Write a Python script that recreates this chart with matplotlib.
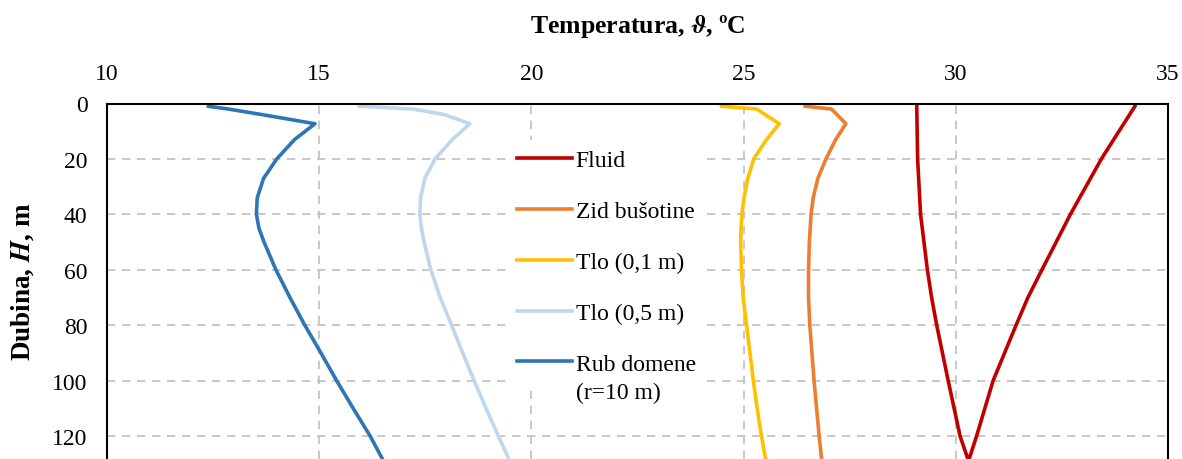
import matplotlib
matplotlib.use("Agg")
import matplotlib.pyplot as plt

plt.rcParams["font.family"] = ["Liberation Serif", "DejaVu Serif"]

# Depth grid (m) shared by the ground/wall profiles
depth = [1, 2, 4, 7.3, 13, 20, 27, 34, 40, 45, 50, 60, 70, 80, 90, 100, 110, 120, 130]

# Temperature profiles (degC) along the depth grid
t_wall = [26.45, 27.07, 27.20, 27.41, 27.17, 26.94, 26.75, 26.64, 26.59, 26.57,
          26.55, 26.53, 26.53, 26.56, 26.61, 26.66, 26.72, 26.78, 26.85]
t_soil_01 = [24.48, 25.31, 25.51, 25.84, 25.54, 25.24, 25.10, 25.01, 24.96, 24.94,
             24.93, 24.95, 24.99, 25.07, 25.15, 25.23, 25.32, 25.42, 25.54]
t_soil_05 = [15.95, 17.21, 17.95, 18.55, 18.14, 17.73, 17.49, 17.39, 17.37, 17.41,
             17.47, 17.63, 17.85, 18.12, 18.38, 18.65, 18.93, 19.22, 19.52]
t_edge = [12.39, 12.86, 13.65, 14.90, 14.42, 14.00, 13.69, 13.54, 13.52, 13.58,
          13.70, 13.98, 14.31, 14.66, 15.04, 15.41, 15.80, 16.20, 16.55]

# Fluid goes down the U-tube and back up
fluid_depth = [1, 20, 40, 60, 70, 80, 100, 120, 129, 120, 100, 80, 70, 60, 40, 20, 1]
t_fluid = [29.08, 29.10, 29.17, 29.33, 29.43, 29.55, 29.82, 30.10, 30.30,
           30.49, 30.88, 31.42, 31.70, 32.03, 32.70, 33.43, 34.22]

W, H = 1182, 460
fig = plt.figure(figsize=(W / 100, H / 100), dpi=100)
ax = fig.add_axes([107 / W, 0, (1168 - 107) / W, (H - 104.5) / H])

lw = 2.6
ax.plot(t_fluid, fluid_depth, color="#C00000", lw=lw, label="Fluid", solid_joinstyle="round")
ax.plot(t_wall, depth, color="#ED7D31", lw=lw, label="Zid bušotine", solid_joinstyle="round")
ax.plot(t_soil_01, depth, color="#FFC000", lw=lw, label="Tlo (0,1 m)", solid_joinstyle="round")
ax.plot(t_soil_05, depth, color="#BDD7EE", lw=lw, label="Tlo (0,5 m)", solid_joinstyle="round")
ax.plot(t_edge, depth, color="#2E75B6", lw=lw, label="Rub domene", solid_joinstyle="round")

ax.set_xlim(10, 35)
ax.set_ylim(128.3, 0)
ax.set_xticks(range(10, 36, 5))
ax.set_yticks(range(0, 121, 20))
ax.xaxis.tick_top()
ax.xaxis.set_label_position("top")
ax.tick_params(length=0, pad=14, labelsize=17)

ax.grid(color="#BFBFBF", linestyle=(0, (5, 4)), linewidth=1.2)
ax.set_axisbelow(True)
for s in ("top", "left", "right"):
    ax.spines[s].set_linewidth(1.5)
ax.spines["bottom"].set_visible(False)

ax.set_xlabel(r"Temperatura, $\mathbfit{\vartheta}$, ºC", fontsize=18.5,
              fontweight="bold", math_fontfamily="stix", labelpad=22)
ax.set_ylabel(r"Dubina, $\mathbfit{H}$, m", fontsize=19.5,
              fontweight="bold", math_fontfamily="stix", labelpad=12)

leg = ax.legend(loc="upper left", bbox_to_anchor=((508 - 107) / 1061, 1 - (141.5 - 104.5) / 355.5),
                borderaxespad=0, fontsize=17, handlelength=2.3, handletextpad=0.17,
                labelspacing=1.24, borderpad=0.4, fancybox=False, framealpha=1,
                facecolor="white", edgecolor="none")
# second line of the last legend label, drawn after the legend is laid out
ax.annotate("(r=10 m)", xy=(0, 0), xycoords=leg.get_texts()[-1], xytext=(0, -5.5),
            textcoords="offset points", va="top", ha="left", fontsize=17,
            annotation_clip=False, zorder=10,
            bbox=dict(facecolor="white", edgecolor="none", pad=3))

fig.savefig("out.png", dpi=100)
